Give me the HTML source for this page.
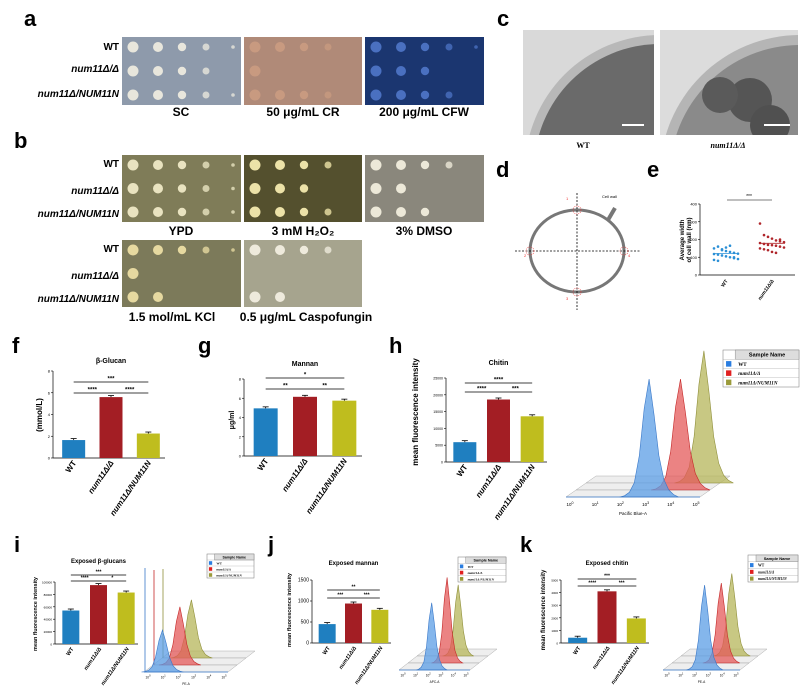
<!DOCTYPE html>
<html><head><meta charset="utf-8"><style>
html,body{margin:0;padding:0;background:#fff;overflow:hidden}
svg{display:block;font-family:"Liberation Sans",sans-serif}
.pl{font-weight:bold;font-size:22px}
.rl{font-weight:bold;font-size:10px}
.cap{font-weight:bold;font-size:12px}
</style></head><body>
<svg id="fig" width="800" height="695" viewBox="0 0 800 695">
<defs>
<clipPath id="c1"><rect x="523" y="30" width="131" height="105"/></clipPath>
<clipPath id="c2"><rect x="660" y="30" width="138" height="105"/></clipPath>
</defs>
<text x="24" y="26" class="pl">a</text>
<text x="14" y="148" class="pl">b</text>
<text x="497" y="26" class="pl">c</text>
<text x="496" y="177" class="pl">d</text>
<text x="647" y="177" class="pl">e</text>
<text x="12" y="353" class="pl">f</text>
<text x="198" y="353" class="pl">g</text>
<text x="389" y="353" class="pl">h</text>
<text x="14" y="552" class="pl">i</text>
<text x="268" y="552" class="pl">j</text>
<text x="520" y="552" class="pl">k</text>
<g id="plates"></g>
<g clip-path="url(#c1)">
<rect x="523" y="30" width="131" height="105" fill="#d9d9d9"/>
<circle cx="660" cy="170" r="135" fill="#b8b8b8"/>
<circle cx="660" cy="170" r="126" fill="#6a6a6a"/>
</g>
<g clip-path="url(#c2)">
<rect x="660" y="30" width="138" height="105" fill="#dcdcdc"/>
<circle cx="800" cy="175" r="140" fill="#b5b5b5"/>
<circle cx="800" cy="175" r="130" fill="#8a8a8a"/>
<circle cx="750" cy="100" r="22" fill="#555"/>
<circle cx="720" cy="95" r="18" fill="#5a5a5a"/>
<circle cx="770" cy="125" r="20" fill="#505050"/>
</g>
<rect x="622" y="124" width="22" height="2" fill="#fff"/>
<rect x="764" y="124" width="26" height="2" fill="#fff"/>
<text x="583" y="148" font-family="Liberation Serif" font-weight="bold" font-size="8" text-anchor="middle">WT</text>
<text x="728" y="148" font-family="Liberation Serif" font-weight="bold" font-style="italic" font-size="8" text-anchor="middle">num11Δ/Δ</text>
<g>
<ellipse cx="577" cy="251" rx="47" ry="41" fill="none" stroke="#777" stroke-width="3"/>
<line x1="608" y1="220" x2="615" y2="208" stroke="#777" stroke-width="4"/>
<line x1="577" y1="193" x2="577" y2="310" stroke="#000" stroke-width="0.8" stroke-dasharray="2,1.5"/>
<line x1="515" y1="251" x2="641" y2="251" stroke="#000" stroke-width="0.8" stroke-dasharray="2,1.5"/>
<circle cx="577" cy="210" r="4" fill="none" stroke="#e33" stroke-width="0.6" stroke-dasharray="1,1"/>
<circle cx="577" cy="292" r="4" fill="none" stroke="#e33" stroke-width="0.6" stroke-dasharray="1,1"/>
<circle cx="530" cy="251" r="4" fill="none" stroke="#e33" stroke-width="0.6" stroke-dasharray="1,1"/>
<circle cx="624" cy="251" r="4" fill="none" stroke="#e33" stroke-width="0.6" stroke-dasharray="1,1"/>
<text x="566" y="200" font-size="4" fill="#e33">1</text><text x="524" y="257" font-size="4" fill="#e33">2</text>
<text x="566" y="300" font-size="4" fill="#e33">3</text><text x="628" y="257" font-size="4" fill="#e33">4</text>
<text x="602" y="198" font-size="4">Cell wall</text>
</g>
<g id="scatterE"></g>
<g id="bars"></g>
<g id="hists"></g>
</svg>
<script>
// ---- bar chart data ----
const groups = ['WT', 'num11Δ/Δ', 'num11Δ/NUM11N'];
const glucanVals = [1.65, 5.6, 2.25];
const mannanVals = [4.95, 6.15, 5.75];
const chitinVals = [5900, 18600, 13600];
const expGlucanVals = [54000, 95000, 83000];
const expMannanVals = [450, 940, 790];
const expChitinVals = [420, 4100, 1950];
const glucanTicks = [0, 2, 4, 6, 8];
const mannanTicks = [0, 2, 4, 6, 8];
const chitinTicks = [0, 5000, 10000, 15000, 20000, 25000];
const expGlucanTicks = [0, 20000, 40000, 60000, 80000, 100000];
const expMannanTicks = [0, 500, 1000, 1500];
const expChitinTicks = [0, 1000, 2000, 3000, 4000, 5000];
// ---- scatter data (panel e) ----
const wtWidths = [150,160,145,135,130,125,120,118,115,110,105,100,95,90,85,80,140,155,165,100];
const mutWidths = [290,225,215,205,195,190,185,180,175,170,168,165,160,155,150,145,140,130,125,200];
const scatterTicks = [0, 100, 200, 300, 400];
// ---- histogram profile (normalized count per bin) ----
const histProfile = [0, 0.01, 0.04, 0.12, 0.35, 0.75, 1, 0.7, 0.35, 0.15, 0.06, 0.02, 0];
const chitinPeaks = [0.62, 0.78, 0.88];
const chitinHeights = [1, 0.94, 1.12];
const expGlucanPeaks = [0.22, 0.32, 0.35];
const expGlucanHeights = [0.7, 0.97, 0.97];
const expMannanPeaks = [0.46, 0.55, 0.58];
const expMannanHeights = [0.84, 1.07, 0.89];
const expChitinPeaks = [0.54, 0.64, 0.66];
const expChitinHeights = [1, 0.94, 0.97];

const NS = 'http://www.w3.org/2000/svg';
const colors = ['#1f7fc0', '#a31e24', '#bfbd1e'];
function mk(tag, attrs, parent) {
  const e = document.createElementNS(NS, tag);
  for (const k in attrs) e.setAttribute(k, attrs[k]);
  parent.appendChild(e);
  return e;
}

// ---- plates ----
const plates = document.getElementById('plates');
const plateDefs = [
  {x:122,y:37,w:119,h:68,bg:'#8e9aab',sp:'#e8e6dc',rows:[5,4,5],name:'plate-sc'},
  {x:244,y:37,w:118,h:68,bg:'#b08a78',sp:'#c89a80',rows:[4,1,4],name:'plate-cr'},
  {x:365,y:37,w:119,h:68,bg:'#1b3670',sp:'#4a70c0',rows:[5,3,4],name:'plate-cfw'},
  {x:122,y:155,w:119,h:67,bg:'#7f7c58',sp:'#e9e3c0',rows:[5,5,5],name:'plate-ypd'},
  {x:244,y:155,w:118,h:67,bg:'#54502e',sp:'#ece2a8',rows:[4,3,4],name:'plate-h2o2'},
  {x:365,y:155,w:119,h:67,bg:'#8a877c',sp:'#ece8d8',rows:[4,2,3],name:'plate-dmso'},
  {x:122,y:240,w:119,h:67,bg:'#7c7a5a',sp:'#e6d9a0',rows:[5,1,2],name:'plate-kcl'},
  {x:244,y:240,w:118,h:67,bg:'#a6a48e',sp:'#eeeadc',rows:[4,0,2],name:'plate-caspofungin'}
];
const spotDx = [11, 36, 60, 84, 111];
const spotR = [5.5, 5, 4.2, 3.5, 1.8];
plateDefs.forEach(p => {
  const g = mk('g', {}, plates);
  
  
  mk('rect', {x:p.x, y:p.y, width:p.w, height:p.h, fill:p.bg}, g);
  p.rows.forEach((n, r) => {
    const cy = p.y + 10 + r * (p.h - 20) / 2;
    for (let i = 0; i < n; i++) {
      mk('circle', {cx:p.x + spotDx[i], cy:cy, r:spotR[i], fill:p.sp, opacity: i > 2 ? 0.8 : 1}, g);
    }
  });
});
const rowLabelSets = [[46,68,93],[163,190,213],[248,275,298]];
rowLabelSets.forEach(ys => {
  ['WT','num11Δ/Δ','num11Δ/NUM11N'].forEach((t, i) => {
    const e = mk('text', {x:119, y:ys[i] + 4, 'text-anchor':'end', class:'rl', 'font-style': i ? 'italic' : 'normal'}, plates);
    e.textContent = t;
    
    
  });
});
const capDefs = [['SC',181,116],['50 μg/mL CR',303,116],['200 μg/mL CFW',424,116],['YPD',181,235],['3 mM H₂O₂',303,235],['3% DMSO',424,235],['1.5 mol/mL KCl',172,321],['0.5 μg/mL Caspofungin',306,321]];
capDefs.forEach(c => {
  const e = mk('text', {x:c[1], y:c[2], 'text-anchor':'middle', class:'cap'}, plates);
  e.textContent = c[0];
  
  
});

// ---- scatter e ----
(function(){
  const g = document.getElementById('scatterE');
  const x0 = 700, x1 = 795, y0 = 275, y1 = 204, max = 400;
  const ys = v => y0 - (v / max) * (y0 - y1);
  mk('line', {x1:x0, y1:y0, x2:x0, y2:y1, stroke:'#000', 'stroke-width':0.7}, g);
  mk('line', {x1:x0, y1:y0, x2:x1, y2:y0, stroke:'#000', 'stroke-width':0.7}, g);
  scatterTicks.forEach(t => {
    mk('line', {x1:x0-2, y1:ys(t), x2:x0, y2:ys(t), stroke:'#000', 'stroke-width':0.6}, g);
    const e = mk('text', {x:x0-3, y:ys(t)+1.5, 'text-anchor':'end', 'font-size':4}, g);
    e.textContent = t;
  });
  const yl = mk('text', {x:0, y:0, 'font-size':6, 'font-weight':'bold', 'text-anchor':'middle', transform:'translate(684,240) rotate(-90)'}, g);
  yl.innerHTML = '<tspan x="0" dy="0">Average width</tspan><tspan x="0" dy="7">of cell wall (nm)</tspan>';
  [[wtWidths, 726, '#2a8fd6', 'WT'], [mutWidths, 772, '#b0262b', 'num11Δ/Δ']].forEach(([arr, cx, col, lab]) => {
    arr.forEach((v, i) => {
      const d = mk('circle', {cx: cx - 12 + (i % 7) * 4, cy: ys(v), r:1.3, fill:col}, g);
      
      
    });
    const mean = arr.reduce((a,b)=>a+b,0)/arr.length;
    mk('line', {x1:cx-13, y1:ys(mean), x2:cx+13, y2:ys(mean), stroke:col, 'stroke-width':0.8}, g);
    const t = mk('text', {x:0, y:0, 'font-size':5, 'font-style': lab==='WT'?'normal':'italic', 'font-weight':'bold', 'text-anchor':'end', transform:`translate(${cx+2},${y0+6}) rotate(-55)`}, g);
    t.textContent = lab;
  });
  mk('line', {x1:727, y1:200, x2:772, y2:200, stroke:'#000', 'stroke-width':0.6}, g);
  const s = mk('text', {x:749, y:198, 'font-size':5, 'text-anchor':'middle'}, g); s.textContent = '***';
})();

// ---- bar charts ----
function barChart(cfg) {
  const g = mk('g', {}, document.getElementById('bars'));
  
  
  const max = cfg.ticks[cfg.ticks.length - 1];
  const ys = v => cfg.y0 - (v / max) * (cfg.y0 - cfg.y1);
  const step = (cfg.x1 - cfg.x0) / 3;
  const xc = i => cfg.x0 + step * (i + 0.5) + 2;
  mk('line', {x1:cfg.x0, y1:cfg.y0, x2:cfg.x0, y2:cfg.y1, stroke:'#000', 'stroke-width':0.7}, g);
  mk('line', {x1:cfg.x0, y1:cfg.y0, x2:cfg.x1, y2:cfg.y0, stroke:'#000', 'stroke-width':0.7}, g);
  cfg.ticks.forEach(t => {
    mk('line', {x1:cfg.x0-2, y1:ys(t), x2:cfg.x0, y2:ys(t), stroke:'#000', 'stroke-width':0.6}, g);
    const e = mk('text', {x:cfg.x0-3, y:ys(t)+1.5, 'text-anchor':'end', 'font-size':cfg.tf}, g);
    e.textContent = t;
  });
  cfg.vals.forEach((v, i) => {
    const b = mk('rect', {x:xc(i)-cfg.bw/2, y:ys(v), width:cfg.bw, height:cfg.y0-ys(v), fill:colors[i]}, g);
    
    
    mk('line', {x1:xc(i)-3, y1:ys(v)-1.5, x2:xc(i)+3, y2:ys(v)-1.5, stroke:'#000', 'stroke-width':0.8}, g);
    mk('line', {x1:xc(i), y1:ys(v)-1.5, x2:xc(i), y2:ys(v), stroke:'#000', 'stroke-width':0.8}, g);
    const lab = mk('text', {x:0, y:0, 'font-size':cfg.lf, 'font-weight':'bold', 'font-style': i ? 'italic':'normal', 'text-anchor':'end', transform:`translate(${xc(i)+3},${cfg.y0+5}) rotate(-55)`}, g);
    lab.textContent = groups[i];
  });
  const ti = mk('text', {x:(cfg.x0+cfg.x1)/2+2, y:cfg.ty, 'text-anchor':'middle', 'font-size':cfg.tsz, 'font-weight':'bold'}, g);
  ti.textContent = cfg.title;
  const yl = mk('text', {x:0, y:0, 'text-anchor':'middle', 'font-size':cfg.ysz, 'font-weight':'bold', transform:`translate(${cfg.ylx},${cfg.yly}) rotate(-90)`}, g);
  yl.textContent = cfg.ylab;
  mk('line', {x1:xc(0), y1:cfg.s1, x2:xc(2), y2:cfg.s1, stroke:'#000', 'stroke-width':0.8}, g);
  mk('line', {x1:xc(0), y1:cfg.s2, x2:xc(2), y2:cfg.s2, stroke:'#000', 'stroke-width':0.8}, g);
  const a = mk('text', {x:xc(1), y:cfg.s1-1.5, 'text-anchor':'middle', 'font-size':cfg.sf, 'font-weight':'bold'}, g); a.textContent = cfg.sig[0];
  const b2 = mk('text', {x:(xc(0)+xc(1))/2, y:cfg.s2-1.5, 'text-anchor':'middle', 'font-size':cfg.sf, 'font-weight':'bold'}, g); b2.textContent = cfg.sig[1];
  const c2 = mk('text', {x:(xc(1)+xc(2))/2, y:cfg.s2-1.5, 'text-anchor':'middle', 'font-size':cfg.sf, 'font-weight':'bold'}, g); c2.textContent = cfg.sig[2];
}
barChart({name:'beta-glucan-chart', vals:glucanVals, ticks:glucanTicks, x0:53, x1:165, y0:458, y1:371, bw:23, title:'β-Glucan', ty:363, tsz:7, ylab:'(mmol/L)', ylx:42, yly:415, ysz:8, s1:382, s2:393, sig:['***','****','****'], sf:6, tf:4, lf:8});
barChart({name:'mannan-chart', vals:mannanVals, ticks:mannanTicks, x0:244, x1:362, y0:456, y1:379, bw:24, title:'Mannan', ty:366, tsz:7, ylab:'μg/ml', ylx:234, yly:420, ysz:7, s1:378, s2:389, sig:['*','**','**'], sf:6, tf:4, lf:8});
barChart({name:'chitin-chart', vals:chitinVals, ticks:chitinTicks, x0:446, x1:547, y0:462, y1:378, bw:23, title:'Chitin', ty:365, tsz:7, ylab:'mean fluorescence intensity', ylx:418, yly:412, ysz:8, s1:383, s2:392, sig:['****','****','***'], sf:6, tf:3.5, lf:8});
barChart({name:'exposed-beta-glucan-chart', vals:expGlucanVals, ticks:expGlucanTicks, x0:55, x1:138, y0:644, y1:582, bw:17, title:'Exposed β-glucans', ty:563, tsz:6, ylab:'mean fluorescence intensity', ylx:37, yly:614, ysz:5.5, s1:575, s2:581, sig:['***','****','*'], sf:5, tf:3, lf:5.5});
barChart({name:'exposed-mannan-chart', vals:expMannanVals, ticks:expMannanTicks, x0:312, x1:391, y0:643, y1:580, bw:17, title:'Exposed mannan', ty:565, tsz:6, ylab:'mean fluorescence intensity', ylx:291, yly:610, ysz:5.5, s1:590, s2:598, sig:['**','***','***'], sf:5, tf:5, lf:5.5});
barChart({name:'exposed-chitin-chart', vals:expChitinVals, ticks:expChitinTicks, x0:561, x1:649, y0:643, y1:580, bw:19, title:'Exposed chitin', ty:565, tsz:6, ylab:'mean fluorescence intensity', ylx:545, yly:610, ysz:6, s1:579, s2:586, sig:['***','****','***'], sf:5, tf:3, lf:5.5});

// ---- histograms ----
const hcol = [['#5b9ee6','#3a78c8'],['#e45a5a','#c42828'],['#b5b55a','#8f8f3a']];
function hist(cfg) {
  const g = mk('g', {}, document.getElementById('hists'));
  
  
  const {x0, x1, yb, dx, dy, hmax} = cfg;
  for (let k = 2; k >= 0; k--) {
    const ox = dx * k, oy = -dy * k;
    mk('polygon', {points:`${x0+ox},${yb+oy} ${x1+ox},${yb+oy} ${x1+ox+dx},${yb+oy-dy} ${x0+ox+dx},${yb+oy-dy}`, fill:'#eee', stroke:'#999', 'stroke-width':0.4}, g);
  }
  if (cfg.spikes) {
    cfg.spikes.forEach((sy, k) => {
      mk('line', {x1:x0 + dx * k + 1, y1:yb - dy * k, x2:x0 + dx * k + 1, y2:sy, stroke:hcol[k][1], 'stroke-width':0.8}, g);
    });
  }
  for (let k = 2; k >= 0; k--) {
    const ox = dx * k, oy = -dy * k;
    const pc = x0 + ox + cfg.peaks[k] * (x1 - x0);
    const w = (x1 - x0) * cfg.wf;
    let d = `M${pc - w},${yb + oy}`;
    histProfile.forEach((p, i) => {
      const x = pc - w + (2 * w) * i / (histProfile.length - 1);
      d += ` L${x.toFixed(1)},${(yb + oy - p * cfg.heights[k] * hmax).toFixed(1)}`;
    });
    d += ' Z';
    const pth = mk('path', {d, fill:hcol[k][0], 'fill-opacity':0.75, stroke:hcol[k][1], 'stroke-width':0.6}, g);
    
    
  }
  mk('line', {x1:x0, y1:yb, x2:x1, y2:yb, stroke:'#3a78c8', 'stroke-width':0.8}, g);
  for (let i = 0; i < 6; i++) {
    const t = mk('text', {x:x0 + 4 + i * (x1 - x0 - 8) / 5, y:yb + cfg.fs * 2, 'font-size':cfg.fs, 'text-anchor':'middle'}, g);
    t.innerHTML = `10<tspan dy="-2" font-size="${cfg.fs*0.8}">${i}</tspan>`;
  }
  const ax = mk('text', {x:(x0 + x1) / 2, y:yb + cfg.fs * 4, 'font-size':cfg.fs, 'text-anchor':'middle'}, g);
  ax.textContent = cfg.axis;
  const L = cfg.leg;
  const lg = mk('g', {}, g);
  
  
  const rh = L.h / 4;
  mk('rect', {x:L.x, y:L.y, width:L.w, height:L.h, fill:'#fff', stroke:'#777', 'stroke-width':0.5}, lg);
  mk('rect', {x:L.x + L.w * 0.16, y:L.y, width:L.w * 0.84, height:rh, fill:'#ddd', stroke:'#777', 'stroke-width':0.4}, lg);
  const hdr = mk('text', {x:L.x + L.w * 0.58, y:L.y + rh * 0.72, 'font-size':rh * 0.6, 'font-weight':'bold', 'text-anchor':'middle'}, lg);
  hdr.textContent = 'Sample Name';
  ['WT','num11Δ/Δ','num11Δ/NUM11N'].forEach((n, i) => {
    const y = L.y + rh * (i + 1);
    mk('line', {x1:L.x, y1:y, x2:L.x + L.w, y2:y, stroke:'#999', 'stroke-width':0.3}, lg);
    mk('rect', {x:L.x + L.w * 0.04, y:y + rh * 0.2, width:L.w * 0.07, height:rh * 0.6, fill:['#2a7de0','#e02020','#9a9a3a'][i]}, lg);
    const t = mk('text', {x:L.x + L.w * 0.2, y:y + rh * 0.72, 'font-size':rh * 0.55, 'font-family':'Liberation Serif', 'font-weight':'bold', 'font-style': i ? 'italic':'normal'}, lg);
    t.textContent = n;
  });
}
hist({name:'chitin-histogram', x0:566, x1:700, yb:497, dx:10, dy:7, hmax:118, wf:0.22, peaks:chitinPeaks, heights:chitinHeights, fs:4.5, axis:'Pacific Blue-A', leg:{x:723, y:350, w:76, h:37}});
hist({name:'exposed-glucan-histogram', x0:144, x1:228, yb:672, dx:9, dy:7, hmax:60, wf:0.25, peaks:expGlucanPeaks, heights:expGlucanHeights, spikes:[568,570,569], fs:3.2, axis:'PE-A', leg:{x:207, y:554, w:47, h:24}});
hist({name:'exposed-mannan-histogram', x0:399, x1:470, yb:670, dx:9, dy:7, hmax:80, wf:0.22, peaks:expMannanPeaks, heights:expMannanHeights, fs:3.2, axis:'APC-A', leg:{x:458, y:557, w:48, h:25}});
hist({name:'exposed-chitin-histogram', x0:663, x1:740, yb:670, dx:9, dy:7, hmax:85, wf:0.24, peaks:expChitinPeaks, heights:expChitinHeights, fs:3.2, axis:'PE-A', leg:{x:748, y:555, w:50, h:27}});
</script>
</body></html>
